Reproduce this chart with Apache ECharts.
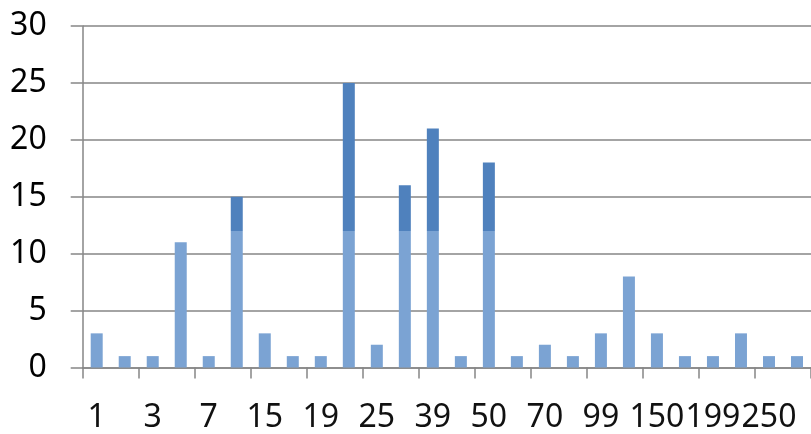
<!DOCTYPE html>
<html>
<head>
<meta charset="utf-8">
<script src="https://cdn.jsdelivr.net/npm/echarts@6/dist/echarts.min.js"></script>
<style>
  html, body { margin: 0; padding: 0; background: #fff; }
  #chart { width: 811px; height: 434px; }
</style>
</head>
<body>
<div id="chart"></div>
<script>
// Category labels along the x axis (every other one is shown)
const categories = ['1', '2', '3', '5', '7', '10', '15', '17', '19', '20', '25', '30', '39',
                    '40', '50', '60', '70', '80', '99', '100', '150', '180', '199', '200', '250', '300'];
// Count per category
const counts = [3, 1, 1, 11, 1, 15, 3, 1, 1, 25, 2, 16, 21, 1, 18, 1, 2, 1, 3, 8, 3, 1, 1, 3, 1, 1];
// Value axis range
const yMin = 0, yMax = 30, yStep = 5;

const axisGray = '#868686';
const font = '"Noto Sans", "Open Sans", sans-serif';

// Bars are deeper blue in the upper part of the plot and paler in the lower band
const barFill = {
  type: 'linear', x: 0, y: 0, x2: 0, y2: 434, global: true,
  colorStops: [
    { offset: 0, color: '#4f81bd' },
    { offset: 0.532, color: '#4f81bd' },
    { offset: 0.532, color: '#7ba3d3' },
    { offset: 1, color: '#7ba3d3' }
  ]
};

const chart = echarts.init(document.getElementById('chart'), null, { renderer: 'canvas' });
chart.setOption({
  animation: false,
  backgroundColor: '#ffffff',
  grid: { left: 82.7, right: -8.4, top: 26, bottom: 66.5, containLabel: false },
  xAxis: {
    type: 'category',
    data: categories,
    boundaryGap: true,
    axisLine: { lineStyle: { color: axisGray, width: 1.5 } },
    axisTick: { show: true, length: 11, lineStyle: { color: axisGray, width: 1.5 } },
    axisLabel: {
      interval: 1,
      margin: 34,
      color: '#111',
      fontFamily: font,
      fontSize: 32
    },
    splitLine: { show: false }
  },
  yAxis: {
    type: 'value',
    min: yMin,
    max: yMax,
    interval: yStep,
    axisLine: { show: true, lineStyle: { color: axisGray, width: 1.5 } },
    axisTick: { show: true, length: 12, lineStyle: { color: axisGray, width: 1.5 } },
    axisLabel: {
      margin: 36,
      color: '#000',
      fontFamily: font,
      fontSize: 32
    },
    splitLine: { show: true, lineStyle: { color: axisGray, width: 1.5 } }
  },
  series: [{
    type: 'bar',
    data: counts,
    barWidth: 12,
    itemStyle: { color: barFill }
  }]
});
</script>
</body>
</html>
